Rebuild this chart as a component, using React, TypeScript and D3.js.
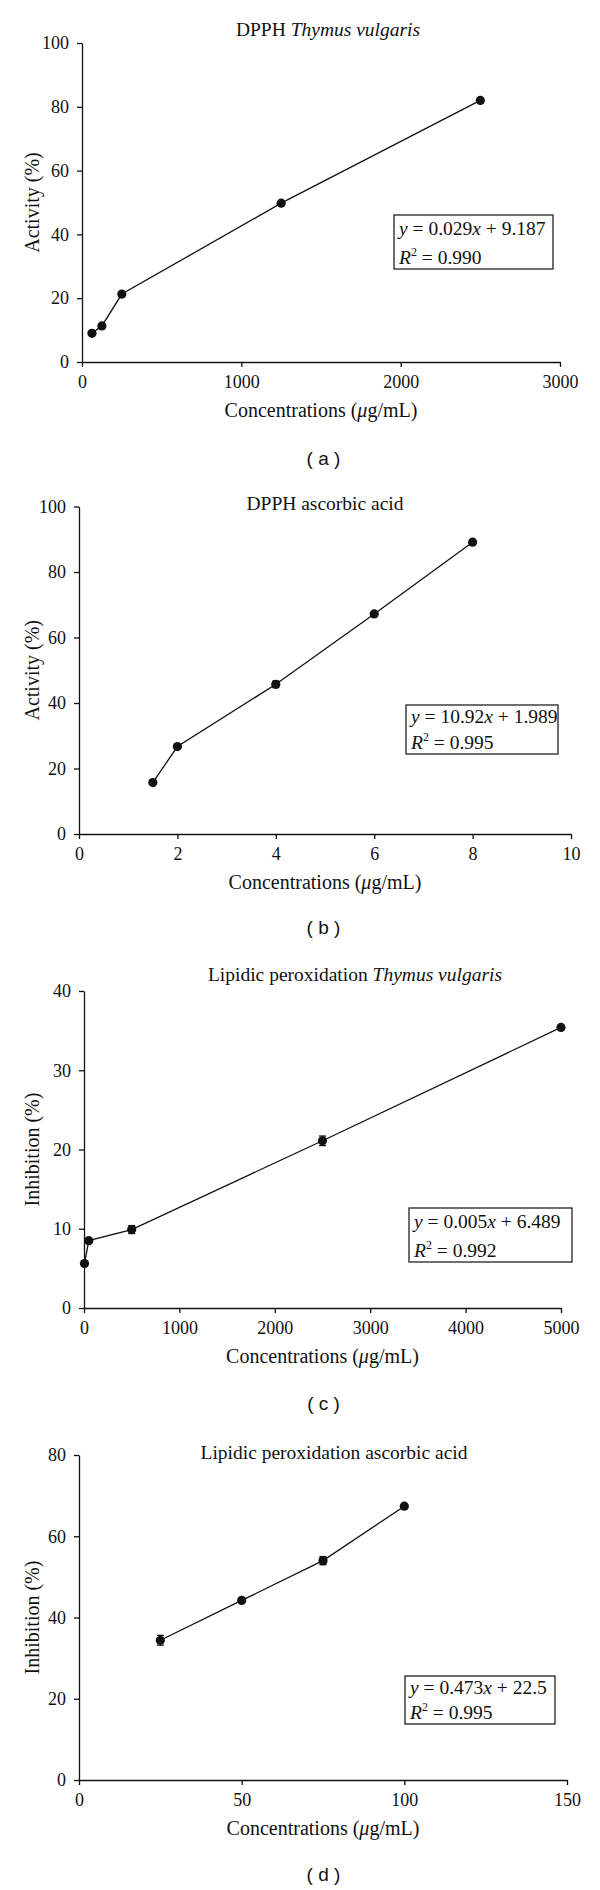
import React, { useEffect, useRef } from "react";
import * as d3 from "d3";

// ---------- data ----------
const panelAConc = [62.5, 125, 250, 1250, 2500];
const panelAActivity = [9.0, 11.3, 21.3, 49.8, 82.0];
const panelAError = [0, 0, 0, 0, 0];

const panelBConc = [1.5, 2, 4, 6, 8];
const panelBActivity = [15.7, 26.7, 45.7, 67.2, 89.1];
const panelBError = [0, 0, 1.0, 0, 0];

const panelCConc = [5, 50, 500, 2500, 5000];
const panelCInhibition = [5.6, 8.5, 9.9, 21.1, 35.4];
const panelCError = [0, 0, 0.5, 0.6, 0];

const panelDConc = [25, 50, 75, 100];
const panelDInhibition = [34.4, 44.2, 54.0, 67.4];
const panelDError = [1.2, 0, 1.0, 0];

const titlePlain = ["DPPH ", "DPPH ascorbic acid", "Lipidic peroxidation ", "Lipidic peroxidation ascorbic acid"];
const titleItalic = ["Thymus vulgaris", "", "Thymus vulgaris", ""];
const yTitles = ["Activity (%)", "Activity (%)", "Inhibition (%)", "Inhibition (%)"];
const xTitle = "Concentrations (";
const panelLetters = ["a", "b", "c", "d"];

const eqSlopes = ["0.029", "10.92", "0.005", "0.473"];
const eqIntercepts = ["9.187", "1.989", "6.489", "22.5"];
const r2Values = ["0.990", "0.995", "0.992", "0.995"];

const xTicksA = [0, 1000, 2000, 3000];
const xTicksB = [0, 2, 4, 6, 8, 10];
const xTicksC = [0, 1000, 2000, 3000, 4000, 5000];
const xTicksD = [0, 50, 100, 150];
const yTicksA = [0, 20, 40, 60, 80, 100];
const yTicksB = [0, 20, 40, 60, 80, 100];
const yTicksC = [0, 10, 20, 30, 40];
const yTicksD = [0, 20, 40, 60, 80];

// ---------- layout ----------
const layouts = [
  { left: 82, right: 560, top: 43, bottom: 362, titleX: 328, titleY: 36, box: [394, 215, 159, 54], labelY: 465 },
  { left: 79, right: 571, top: 506.5, bottom: 834, titleX: 325, titleY: 510, box: [406, 705, 152, 49], labelY: 934 },
  { left: 84, right: 561, top: 991, bottom: 1308, titleX: 355, titleY: 981, box: [409, 1208, 163, 54], labelY: 1410 },
  { left: 79, right: 567, top: 1455, bottom: 1780, titleX: 334, titleY: 1459, box: [405, 1676, 150, 48], labelY: 1881 },
];

const series = [
  { x: panelAConc, y: panelAActivity, e: panelAError, xt: xTicksA, yt: yTicksA },
  { x: panelBConc, y: panelBActivity, e: panelBError, xt: xTicksB, yt: yTicksB },
  { x: panelCConc, y: panelCInhibition, e: panelCError, xt: xTicksC, yt: yTicksC },
  { x: panelDConc, y: panelDInhibition, e: panelDError, xt: xTicksD, yt: yTicksD },
];

const SERIF = "'Liberation Serif', 'Times New Roman', serif";
const SANS = "'Liberation Sans', Arial, sans-serif";
const INK = "#111";

export default function App() {
  const ref = useRef<SVGSVGElement>(null);

  useEffect(() => {
    const svg = d3.select(ref.current);
    svg.selectAll("*").remove();

    series.forEach((s, i) => {
      const L = layouts[i];
      const xs = d3.scaleLinear().domain([s.xt[0], s.xt[s.xt.length - 1]]).range([L.left, L.right]);
      const ys = d3.scaleLinear().domain([s.yt[0], s.yt[s.yt.length - 1]]).range([L.bottom, L.top]);
      const g = svg.append("g");

      // axes
      const xAxis = d3.axisBottom(xs).tickValues(s.xt).tickSize(5).tickSizeOuter(0).tickPadding(8.5).tickFormat(d3.format("d"));
      const yAxis = d3.axisLeft(ys).tickValues(s.yt).tickSize(5).tickSizeOuter(0).tickPadding(8).tickFormat(d3.format("d"));
      const gx = g.append("g").attr("transform", `translate(0,${L.bottom})`).call(xAxis);
      const gy = g.append("g").attr("transform", `translate(${L.left},0)`).call(yAxis);
      [gx, gy].forEach((ax) => {
        ax.attr("font-family", SERIF).attr("font-size", 18);
        ax.select(".domain").attr("stroke", INK).attr("stroke-width", 1.3);
        ax.selectAll(".tick line").attr("stroke", INK).attr("stroke-width", 1.3);
        ax.selectAll(".tick text").attr("fill", INK).attr("font-family", SERIF).attr("font-size", 18);
      });

      // line
      const pts = s.x.map((xv, k) => [xv, s.y[k], s.e[k]] as [number, number, number]);
      const line = d3.line<[number, number, number]>().x((d) => xs(d[0])).y((d) => ys(d[1]));
      g.append("path").attr("d", line(pts)).attr("fill", "none").attr("stroke", INK).attr("stroke-width", 1.3);

      // error bars
      pts.filter((d) => d[2] > 0).forEach((d) => {
        const cx = xs(d[0]);
        const y1 = ys(d[1] - d[2]);
        const y2 = ys(d[1] + d[2]);
        g.append("line").attr("x1", cx).attr("x2", cx).attr("y1", y1).attr("y2", y2).attr("stroke", INK).attr("stroke-width", 1.3);
        [y1, y2].forEach((yy) =>
          g.append("line").attr("x1", cx - 3.5).attr("x2", cx + 3.5).attr("y1", yy).attr("y2", yy).attr("stroke", INK).attr("stroke-width", 1.3)
        );
      });

      // points
      g.selectAll("circle.pt").data(pts).enter().append("circle")
        .attr("cx", (d) => xs(d[0])).attr("cy", (d) => ys(d[1])).attr("r", 4.6).attr("fill", INK);

      // title
      const t = g.append("text").attr("x", L.titleX).attr("y", L.titleY).attr("text-anchor", "middle")
        .attr("font-family", SERIF).attr("font-size", 19.5).attr("fill", INK);
      t.append("tspan").text(titlePlain[i]);
      if (titleItalic[i]) t.append("tspan").attr("font-style", "italic").text(titleItalic[i]);

      // y title
      const cy = (L.top + L.bottom) / 2;
      g.append("text").attr("transform", `translate(39,${cy}) rotate(-90)`).attr("text-anchor", "middle")
        .attr("font-family", SERIF).attr("font-size", 20).attr("fill", INK).text(yTitles[i]);

      // x title
      const cx = (L.left + L.right) / 2;
      const xt = g.append("text").attr("x", cx).attr("y", L.bottom + 55).attr("text-anchor", "middle")
        .attr("font-family", SERIF).attr("font-size", 20).attr("fill", INK);
      xt.append("tspan").text(xTitle);
      xt.append("tspan").attr("font-style", "italic").text("\u03bc");
      xt.append("tspan").text("g/mL)");

      // equation box
      const [bx, by, bw, bh] = L.box;
      g.append("rect").attr("x", bx).attr("y", by).attr("width", bw).attr("height", bh)
        .attr("fill", "#fff").attr("stroke", "#222").attr("stroke-width", 1.3);
      const e1 = g.append("text").attr("x", bx + 5).attr("y", by + bh * 0.36 + 0.5)
        .attr("font-family", SERIF).attr("font-size", 19.5).attr("fill", INK);
      e1.append("tspan").attr("font-style", "italic").text("y");
      e1.append("tspan").text(` = ${eqSlopes[i]}`);
      e1.append("tspan").attr("font-style", "italic").text("x");
      e1.append("tspan").text(` + ${eqIntercepts[i]}`);
      const e2 = g.append("text").attr("x", bx + 5).attr("y", by + bh - 5)
        .attr("font-family", SERIF).attr("font-size", 19.5).attr("fill", INK);
      e2.append("tspan").attr("font-style", "italic").text("R");
      e2.append("tspan").attr("dy", -8).attr("font-size", 12).text("2");
      e2.append("tspan").attr("dy", 8).text(` = ${r2Values[i]}`);

      // panel letter
      g.append("text").attr("x", 323.5).attr("y", L.labelY).attr("text-anchor", "middle")
        .attr("font-family", SANS).attr("font-size", 19).attr("fill", INK)
        .text(`( ${panelLetters[i]} )`);
    });
  }, []);

  return (
    <svg
      ref={ref}
      width={600}
      height={1890}
      style={{ position: "absolute", left: 0, top: 0, background: "#fff", display: "block" }}
    />
  );
}
